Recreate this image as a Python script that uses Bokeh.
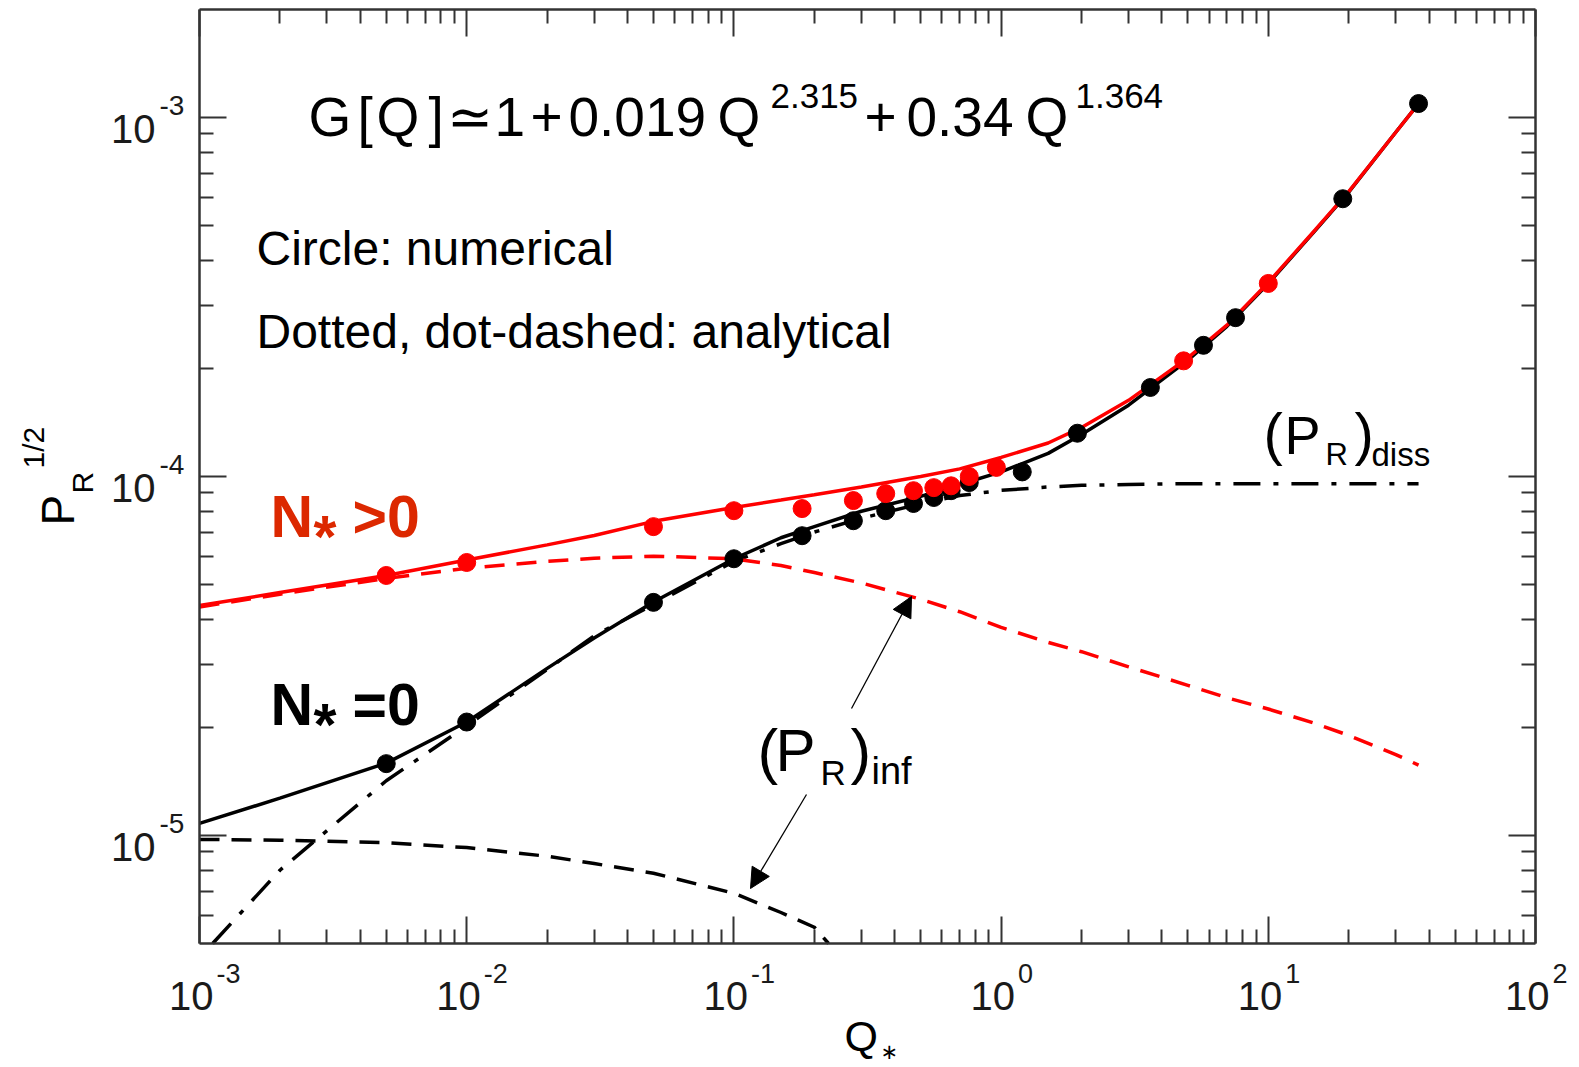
import math
from bokeh.plotting import figure
from bokeh.models import LogAxis, FixedTicker, Label, Arrow, NormalHead, Range1d
from bokeh.embed import file_html
from bokeh.resources import INLINE

# ---------------- data ----------------
# numerical results (circles)
q_num_black = [0.005, 0.01, 0.05, 0.1, 0.18, 0.28, 0.37, 0.47, 0.56, 0.65, 0.76, 1.2,
               1.93, 3.62, 5.72, 7.54, 19.0, 36.5]
p_num_black = [1.585e-5, 2.07e-5, 4.46e-5, 5.90e-5, 6.84e-5, 7.53e-5, 8.03e-5, 8.41e-5,
               8.74e-5, 9.13e-5, 9.62e-5, 1.03e-4, 1.32e-4, 1.77e-4, 2.32e-4, 2.77e-4,
               5.94e-4, 1.094e-3]
q_num_red = [0.005, 0.01, 0.05, 0.1, 0.18, 0.28, 0.37, 0.47, 0.56, 0.65, 0.76, 0.96, 4.82, 10.0]
p_num_red = [5.30e-5, 5.76e-5, 7.25e-5, 8.03e-5, 8.14e-5, 8.57e-5, 8.96e-5, 9.13e-5,
             9.31e-5, 9.42e-5, 1.0e-4, 1.06e-4, 2.10e-4, 3.45e-4]

# full analytical curves (solid)
q_full = [0.001, 0.002, 0.005, 0.01, 0.02, 0.03, 0.05, 0.1, 0.15, 0.2, 0.3, 0.5, 0.7,
          1.0, 1.5, 2.0, 3.0, 5.0, 7.0, 10.0, 15.0, 20.0, 30.0, 36.5]
p_full_black = [1.08e-5, 1.27e-5, 1.59e-5, 2.07e-5, 2.92e-5, 3.55e-5, 4.47e-5, 5.9e-5,
                6.75e-5, 7.25e-5, 8.0e-5, 8.8e-5, 9.5e-5, 1.03e-4, 1.16e-4, 1.31e-4,
                1.58e-4, 2.11e-4, 2.62e-4, 3.45e-4, 4.85e-4, 6.2e-4, 9.1e-4, 1.094e-3]
p_full_red = [4.37e-5, 4.75e-5, 5.30e-5, 5.85e-5, 6.45e-5, 6.85e-5, 7.5e-5, 8.2e-5,
              8.6e-5, 8.9e-5, 9.35e-5, 1.0e-4, 1.05e-4, 1.13e-4, 1.24e-4, 1.37e-4,
              1.63e-4, 2.14e-4, 2.64e-4, 3.47e-4, 4.87e-4, 6.22e-4, 9.1e-4, 1.094e-3]

# dissipative part (dot-dashed), N*=0 (starts where it enters the box)
q_diss = [0.00112, 0.002, 0.005, 0.01, 0.02, 0.03, 0.05, 0.1, 0.15, 0.2, 0.3, 0.5, 0.7,
          1.0, 1.5, 2.0, 3.0, 5.0, 10.0, 20.0, 36.5]
p_diss = [5.0e-6, 8.0e-6, 1.42e-5, 2.02e-5, 2.9e-5, 3.6e-5, 4.4e-5, 5.8e-5, 6.5e-5,
          7.0e-5, 7.65e-5, 8.4e-5, 8.85e-5, 9.15e-5, 9.35e-5, 9.45e-5, 9.5e-5, 9.55e-5,
          9.55e-5, 9.55e-5, 9.55e-5]

# inflaton part (dashed), N*=0 (ends where it leaves the box) and N*>0
q_inf_black = [0.001, 0.002, 0.005, 0.01, 0.02, 0.03, 0.05, 0.1, 0.15, 0.2, 0.226]
p_inf_black = [9.75e-6, 9.7e-6, 9.55e-6, 9.25e-6, 8.75e-6, 8.35e-6, 7.85e-6, 6.9e-6,
               6.1e-6, 5.55e-6, 5.0e-6]
q_inf_red = [0.001, 0.002, 0.005, 0.01, 0.02, 0.03, 0.05, 0.1, 0.15, 0.2, 0.3, 0.5, 0.7,
             1.0, 1.5, 2.0, 3.0, 5.0, 7.0, 10.0, 15.0, 20.0, 30.0, 36.5]
p_inf_red = [4.33e-5, 4.7e-5, 5.2e-5, 5.55e-5, 5.8e-5, 5.92e-5, 6.0e-5, 5.9e-5, 5.65e-5,
             5.4e-5, 5.05e-5, 4.55e-5, 4.2e-5, 3.8e-5, 3.45e-5, 3.25e-5, 2.95e-5, 2.62e-5,
             2.42e-5, 2.25e-5, 2.05e-5, 1.9e-5, 1.68e-5, 1.57e-5]

# axes / ticks
X_BOX = (1e-3, 1e2)
Y_BOX = (5e-6, 2e-3)
x_major = [1e-3, 1e-2, 1e-1, 1e0, 1e1, 1e2]
x_major_exp = ["-3", "-2", "-1", "0", "1", "2"]
x_minor = [k * 10.0 ** e for e in range(-3, 2) for k in range(2, 10)]
y_major = [1e-5, 1e-4, 1e-3]
y_major_exp = ["-5", "-4", "-3"]
y_minor = [6e-6, 7e-6, 8e-6, 9e-6] + [k * 10.0 ** e for e in (-5, -4) for k in range(2, 10)]

# ---------------- layout (page pixels) ----------------
BOX_L, BOX_R, BOX_T, BOX_B = 199, 1535, 9, 943     # the plotted box
FL, FT, FRAME_W, FRAME_H = 2, 2, 1572, 1062        # bokeh frame covers the page

_dx = (BOX_R - BOX_L) / (math.log10(X_BOX[1]) - math.log10(X_BOX[0]))
_dy = (BOX_B - BOX_T) / (math.log10(Y_BOX[1]) - math.log10(Y_BOX[0]))
def qx(px):
    return 10 ** (math.log10(X_BOX[0]) + (px - BOX_L) / _dx)
def yv(py):
    return 10 ** (math.log10(Y_BOX[1]) - (py - BOX_T) / _dy)

p = figure(x_axis_type="log", y_axis_type="log",
           x_range=Range1d(qx(FL), qx(FL + FRAME_W)),
           y_range=Range1d(yv(FT + FRAME_H), yv(FT)),
           frame_width=FRAME_W, frame_height=FRAME_H,
           min_border_left=FL, min_border_right=2,
           min_border_top=FT, min_border_bottom=2,
           output_backend="svg", toolbar_location=None,
           background_fill_color="white", border_fill_color="white")
p.xgrid.visible = False
p.ygrid.visible = False
p.outline_line_color = None

def style_axis(ax, ticks, minor, loc, bounds):
    ax.ticker = FixedTicker(ticks=ticks, minor_ticks=minor)
    ax.fixed_location = loc
    ax.bounds = bounds
    ax.major_tick_in = 27
    ax.major_tick_out = 0
    ax.minor_tick_in = 14
    ax.minor_tick_out = 0
    ax.axis_line_width = 2.5
    ax.axis_line_color = "#333333"
    ax.major_tick_line_width = 2
    ax.minor_tick_line_width = 2
    ax.major_tick_line_color = "#333333"
    ax.minor_tick_line_color = "#333333"
    ax.major_label_text_font_size = "1px"
    ax.major_label_text_alpha = 0
    ax.major_label_standoff = 0

style_axis(p.xaxis[0], x_major, x_minor, Y_BOX[0], X_BOX)
style_axis(p.yaxis[0], y_major, y_minor, X_BOX[0], Y_BOX)
top_axis = LogAxis()
right_axis = LogAxis()
style_axis(top_axis, x_major, x_minor, Y_BOX[1], X_BOX)
style_axis(right_axis, y_major, y_minor, X_BOX[1], Y_BOX)
p.add_layout(top_axis, "above")
p.add_layout(right_axis, "right")

RED = "#ff0000"
# lines
p.line(q_inf_black, p_inf_black, line_color="black", line_width=3.5, line_dash="20 12")
p.line(q_diss, p_diss, line_color="black", line_width=3.5, line_dash="27 13 5 13")
p.line(q_full, p_full_black, line_color="black", line_width=3.5)
p.line(q_inf_red, p_inf_red, line_color=RED, line_width=3.5, line_dash="20 12")
p.line(q_full, p_full_red, line_color=RED, line_width=3.5)
# points
p.scatter(q_num_black, p_num_black, marker="circle", size=18, fill_color="black", line_color="black")
p.scatter(q_num_red, p_num_red, marker="circle", size=18, fill_color=RED, line_color=RED)

FONT = "Liberation Sans"
MID = 0.3465  # distance from baseline to the middle of the font box, in em

def lab(px, base, text, size, color="black", style="normal", angle=0.0, font=FONT):
    if angle:
        x, y = qx(px - MID * size), yv(base)
    else:
        x, y = qx(px), yv(base - MID * size)
    p.add_layout(Label(x=x, y=y, text=text, text_font=font,
                       text_font_size=f"{size}px", text_color=color, text_font_style=style,
                       text_align="left", text_baseline="middle", angle=angle))

# tick labels
for v, e in zip(x_major, x_major_exp):
    p.add_layout(Label(x=v, y=yv(1009 - MID * 40), text="10", text_font=FONT,
                       text_font_size="40px", text_color="#1a1a1a", text_align="right",
                       text_baseline="middle", x_offset=14))
    p.add_layout(Label(x=v, y=yv(982 - MID * 27), text=e, text_font=FONT,
                       text_font_size="27px", text_color="#1a1a1a", text_align="left",
                       text_baseline="middle", x_offset=17))
for v, e in zip(y_major, y_major_exp):
    p.add_layout(Label(x=qx(155), y=v, text="10", text_font=FONT, text_font_size="40px",
                       text_color="#1a1a1a", text_align="right", text_baseline="middle",
                       y_offset=-(25 - MID * 40)))
    p.add_layout(Label(x=qx(159), y=v, text=e, text_font=FONT, text_font_size="28px",
                       text_color="#1a1a1a", text_align="left", text_baseline="middle",
                       y_offset=2 + MID * 28))

# axis titles
lab(73, 525, "P", 46, angle=math.pi / 2)
lab(92, 493, "R", 30, angle=math.pi / 2)
lab(43, 468, "1/2", 30, angle=math.pi / 2)
lab(844, 1050, "Q", 43)
lab(880, 1059, "∗", 21, font="DejaVu Sans")

# formula
for t, x in [("G", 308), ("[", 357), ("Q", 376), ("]", 428), ("≃", 446), ("1", 494),
             ("+", 530), ("0.019", 568), ("Q", 717), ("+", 864), ("0.34", 906), ("Q", 1025)]:
    lab(x, 136, t, 55)
lab(770, 108, "2.315", 35)
lab(1075, 108, "1.364", 35)

lab(256, 265, "Circle: numerical", 48)
lab(256, 348, "Dotted, dot-dashed: analytical", 48)

# N* labels
NRED = "#dc2800"
lab(270, 537, "N", 59, color=NRED, style="bold")
lab(313, 557, "*", 59, color=NRED, style="bold")
lab(352, 537, ">0", 59, color=NRED, style="bold")
lab(270, 725, "N", 59, style="bold")
lab(313, 745, "*", 59, style="bold")
lab(352, 725, "=0", 59, style="bold")

# (P_R)_diss
lab(1263, 453, "(", 58)
lab(1284, 453, "P", 54)
lab(1325, 465, "R", 31)
lab(1354, 453, ")", 58)
lab(1371, 465, "diss", 33)

# (P_R)_inf
lab(757, 771, "(", 62)
lab(775, 771, "P", 60)
lab(820, 784, "R", 35)
lab(850, 771, ")", 62)
lab(871, 784, "inf", 38)

# arrows
for (x0, y0, x1, y1) in [(851, 708, 911, 596), (806, 794, 750, 888)]:
    p.add_layout(Arrow(x_start=qx(x0), y_start=yv(y0), x_end=qx(x1), y_end=yv(y1),
                       line_color="black", line_width=1.3,
                       end=NormalHead(size=20, fill_color="black", line_color="black")))

open("out.html", "w").write(file_html(p, INLINE))
